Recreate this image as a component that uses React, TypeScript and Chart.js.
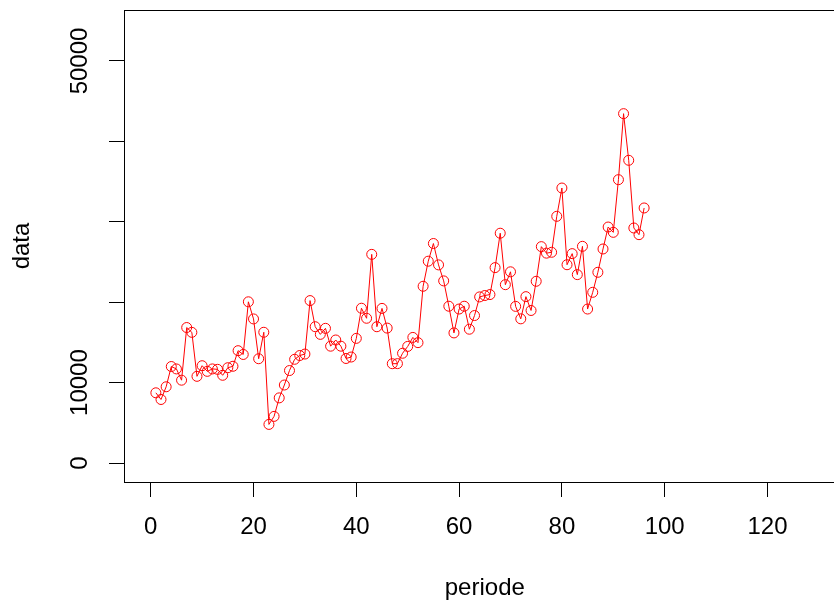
import React, { useEffect, useRef } from "react";
import { Chart, registerables } from "chart.js";

Chart.register(...registerables);

const periode = [
  1, 2, 3, 4, 5, 6, 7, 8, 9, 10, 11, 12, 13, 14, 15, 16, 17, 18, 19, 20,
  21, 22, 23, 24, 25, 26, 27, 28, 29, 30, 31, 32, 33, 34, 35, 36, 37, 38, 39, 40,
  41, 42, 43, 44, 45, 46, 47, 48, 49, 50, 51, 52, 53, 54, 55, 56, 57, 58, 59, 60,
  61, 62, 63, 64, 65, 66, 67, 68, 69, 70, 71, 72, 73, 74, 75, 76, 77, 78, 79, 80,
  81, 82, 83, 84, 85, 86, 87, 88, 89, 90, 91, 92, 93, 94, 95, 96,
];

const dataValues = [
  8730, 7900, 9480, 12000, 11700, 10300, 16850, 16250, 10780, 12100,
  11400, 11700, 11650, 10910, 11850, 12030, 13970, 13500, 20050, 17920,
  12970, 16260, 4800, 5800, 8100, 9700, 11500, 12900, 13370, 13550,
  20200, 16950, 16000, 16750, 14530, 15300, 14530, 13000, 13180, 15500,
  19250, 18000, 25950, 16950, 19230, 16780, 12350, 12360, 13650, 14500,
  15620, 14970, 21980, 25100, 27300, 24640, 22650, 19500, 16180, 19150,
  19500, 16640, 18340, 20660, 20830, 20950, 24300, 28580, 22180, 23780,
  19480, 17930, 20690, 18970, 22600, 26910, 26100, 26210, 30680, 34200,
  24660, 26040, 23430, 26950, 19150, 21230, 23720, 26620, 29350, 28690,
  35240, 43450, 37650, 29230, 28400, 31720,
];

const xTicks = [0, 20, 40, 60, 80, 100, 120];
const xTickLabels = ["0", "20", "40", "60", "80", "100", "120"];
const yTicks = [0, 10000, 20000, 30000, 40000, 50000];
const yTickLabels = ["0", "10000", "", "", "", "50000"];

const FONT_FAMILY = '"Liberation Sans", Arial, Helvetica, sans-serif';
const INK = "#000000";
const RED = "#ff0000";

const framePlugin = {
  id: "rframe",
  afterDraw(chart: any) {
    const { ctx, chartArea } = chart;
    const { left, top, right, bottom } = chartArea;
    ctx.save();
    ctx.strokeStyle = INK;
    ctx.lineWidth = 1;
    ctx.strokeRect(
      Math.round(left) + 0.5,
      Math.round(top) + 0.5,
      Math.round(right - left),
      Math.round(bottom - top)
    );
    const ys = chart.scales.y;
    ctx.fillStyle = INK;
    ctx.font = `24px ${FONT_FAMILY}`;
    ctx.textAlign = "center";
    ctx.textBaseline = "middle";
    yTicks.forEach((v, i) => {
      const lab = yTickLabels[i];
      if (!lab) return;
      const py = ys.getPixelForValue(v);
      ctx.save();
      ctx.translate(80, py);
      ctx.rotate(-Math.PI / 2);
      ctx.fillText(lab, 0, 0);
      ctx.restore();
    });
    ctx.restore();
  },
};

export default function App() {
  const ref = useRef<HTMLCanvasElement>(null);

  useEffect(() => {
    const canvas = ref.current;
    if (!canvas) return;
    const font = { family: FONT_FAMILY, size: 24, lineHeight: 1 };
    const chart = new Chart(canvas, {
      type: "line",
      data: {
        datasets: [
          {
            data: periode.map((x, i) => ({ x, y: dataValues[i] })),
            borderColor: RED,
            borderWidth: 1,
            pointRadius: 5,
            pointBorderWidth: 1,
            pointBackgroundColor: "rgba(0,0,0,0)",
            pointBorderColor: RED,
            pointHoverRadius: 5,
            tension: 0,
            fill: false,
          },
        ],
      },
      options: {
        animation: false,
        responsive: false,
        devicePixelRatio: 1,
        events: [],
        layout: { padding: { top: 10, right: 14.4, left: 0, bottom: 0 } },
        plugins: {
          legend: { display: false },
          tooltip: { enabled: false },
        },
        scales: {
          x: {
            type: "linear",
            min: -5.2,
            max: 135.2,
            afterBuildTicks: (s: any) => {
              s.ticks = xTicks.map((v) => ({ value: v }));
            },
            afterFit: (s: any) => {
              s.height = 119;
            },
            grid: {
              display: true,
              drawOnChartArea: false,
              drawTicks: true,
              tickLength: 15,
              color: INK,
              lineWidth: 1,
            },
            border: { display: true, color: INK, width: 1 },
            ticks: {
              font,
              color: INK,
              padding: 18.5,
              minRotation: 0,
              maxRotation: 0,
              autoSkip: false,
              callback: (v: any) => {
                const idx = xTicks.indexOf(Number(v));
                return idx >= 0 ? xTickLabels[idx] : "";
              },
            },
            title: {
              display: true,
              text: "periode",
              font,
              color: INK,
              padding: { top: 0, bottom: 1 },
            },
          },
          y: {
            type: "linear",
            min: -2363,
            max: 56343,
            afterBuildTicks: (s: any) => {
              s.ticks = yTicks.map((v) => ({ value: v }));
            },
            afterFit: (s: any) => {
              s.width = 124;
            },
            grid: {
              display: true,
              drawOnChartArea: false,
              drawTicks: true,
              tickLength: 15,
              color: INK,
              lineWidth: 1,
            },
            border: { display: true, color: INK, width: 1 },
            ticks: { display: false },
            title: {
              display: true,
              text: "data",
              font,
              color: INK,
              padding: { top: 10, bottom: 0 },
            },
          },
        },
      },
      plugins: [framePlugin],
    });
    return () => chart.destroy();
  }, []);

  return (
    <div
      style={{
        position: "absolute",
        left: 0,
        top: 0,
        width: 834,
        height: 601,
        overflow: "hidden",
        background: "#ffffff",
      }}
    >
      <canvas ref={ref} width={860} height={601} style={{ display: "block" }} />
    </div>
  );
}
